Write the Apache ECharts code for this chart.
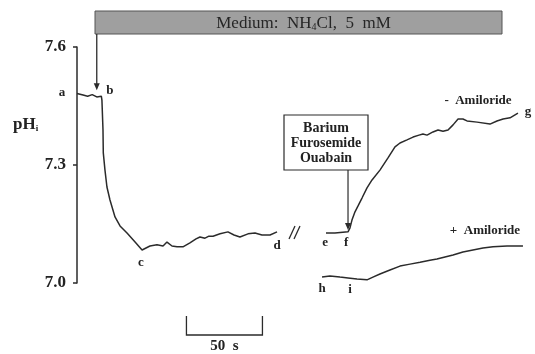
<!DOCTYPE html>
<html>
<head>
<meta charset="utf-8">
<script src="https://cdn.jsdelivr.net/npm/echarts@6/dist/echarts.min.js"></script>
<style>
html,body{margin:0;padding:0;background:#fff;}
#chart{width:535px;height:354px;}
</style>
</head>
<body>
<div id="chart"></div>
<script>
// Intracellular pH traces; time in seconds, pH units
const yTicks = [7.0, 7.3, 7.6];

// a-b-c-d : NH4Cl prepulse, acidification and plateau
const traceABCD = [
  [0, 7.482], [4, 7.478], [7, 7.475], [10, 7.479], [13, 7.473], [16, 7.475],
  [16.4, 7.465], [17.1, 7.389], [17.3, 7.331], [18.4, 7.287], [19.7, 7.244],
  [21.7, 7.211], [25, 7.168], [28.3, 7.145], [32.9, 7.127], [38.2, 7.104],
  [42.8, 7.084], [48, 7.094], [52.6, 7.097], [56.6, 7.094], [59.2, 7.104],
  [62.5, 7.094], [65.8, 7.092], [69.7, 7.092], [74.3, 7.102], [78.3, 7.112],
  [80.9, 7.117], [84.2, 7.114], [86.8, 7.119], [89.5, 7.119], [94.1, 7.125],
  [99.3, 7.130], [103.3, 7.122], [107.2, 7.117], [112.5, 7.125], [117.1, 7.127],
  [121.7, 7.122], [127, 7.122], [131.6, 7.130]
];

// e-f-g : recovery without amiloride
const traceEFG = [
  [163.8, 7.127], [169.7, 7.127], [178.3, 7.130], [179.6, 7.140], [180.9, 7.160],
  [182.9, 7.181], [184.9, 7.196], [187.5, 7.216], [190.8, 7.242], [194.1, 7.262],
  [199.3, 7.287], [204.6, 7.318], [209.2, 7.346], [212.5, 7.356], [217.1, 7.364],
  [221.1, 7.371], [225, 7.376], [227.6, 7.379], [230.3, 7.376], [234.2, 7.384],
  [237.5, 7.389], [240.8, 7.386], [244.1, 7.389], [247.4, 7.402], [250.7, 7.417],
  [253.9, 7.417], [256.6, 7.412], [263.2, 7.409], [271.7, 7.404], [276.3, 7.412],
  [280.3, 7.417], [284.9, 7.420], [290.1, 7.432]
];

// h-i : recovery with amiloride
const traceHI = [
  [161.2, 7.015], [166.4, 7.018], [173, 7.015], [178.3, 7.013], [184.2, 7.010],
  [190.8, 7.008], [194.7, 7.015], [199.3, 7.023], [205.9, 7.033], [212.5, 7.043],
  [219.1, 7.048], [225.7, 7.053], [232.2, 7.058], [236.8, 7.061], [242.1, 7.066],
  [247.4, 7.071], [253.9, 7.079], [260.5, 7.084], [267.1, 7.089], [273.7, 7.092],
  [282.9, 7.094], [293.4, 7.094]
];

// point letters [t, pH, text]
const pointLetters = [
  [-9.9, 7.483, 'a'], [21.7, 7.488, 'b'], [42.1, 7.053, 'c'], [131.6, 7.094, 'd'],
  [163.2, 7.102, 'e'], [177, 7.102, 'f'], [296.7, 7.435, 'g'],
  [161.2, 6.985, 'h'], [179.6, 6.982, 'i']
];

// condition captions [t, pH, text]
const captions = [
  [263.8, 7.463, '-  Amiloride'],
  [268.4, 7.132, '+  Amiloride']
];

const inhibitorLines = ['Barium', 'Furosemide', 'Ouabain'];
const scaleBarSeconds = [72, 122];
const scaleBarLabel = '50  s';

const SERIF = '"Liberation Serif", "DejaVu Serif", serif';
const INK = '#2b2b2b';

const chart = echarts.init(document.getElementById('chart'), null, {renderer: 'canvas'});

function lineSeries(data) {
  return {
    type: 'line', data: data, showSymbol: false, symbol: 'none',
    lineStyle: {color: INK, width: 1.5}, animation: false
  };
}

chart.setOption({
  animation: false,
  grid: {left: 77, right: 2, top: 47, bottom: 71},
  xAxis: {type: 'value', min: 0, max: 300, show: false},
  yAxis: {
    type: 'value', min: yTicks[0], max: yTicks[yTicks.length - 1], interval: 0.3,
    axisLine: {show: true, lineStyle: {color: INK, width: 1.5}},
    axisTick: {show: true, length: 4, lineStyle: {color: INK, width: 1.5}},
    splitLine: {show: false},
    axisLabel: {
      margin: 11, color: '#222', fontFamily: SERIF, fontWeight: 'bold', fontSize: 17,
      formatter: v => v.toFixed(1)
    }
  },
  series: [lineSeries(traceABCD), lineSeries(traceEFG), lineSeries(traceHI)]
});

function px(t, ph) { return chart.convertToPixel({gridIndex: 0}, [t, ph]); }

function buildGraphics() {
  const g = [];
  const txt = (x, y, text, size, extra) => g.push(Object.assign({
    type: 'text', x: x, y: y,
    style: Object.assign({text: text, fill: '#222', font: 'bold ' + size + 'px ' + SERIF,
      textAlign: 'center', textVerticalAlign: 'middle'}, extra || {})
  }));

  pointLetters.forEach(p => { const q = px(p[0], p[1]); txt(q[0], q[1], p[2], 13); });
  captions.forEach(p => { const q = px(p[0], p[1]); txt(q[0], q[1], p[2], 13); });

  // y-axis title pH_i
  g.push({
    type: 'text', x: 13, y: 125,
    style: {
      text: '{m|pH}{s|i}', textVerticalAlign: 'middle',
      rich: {
        m: {font: 'bold 17px ' + SERIF, fill: '#222'},
        s: {font: 'bold 9px ' + SERIF, fill: '#222', padding: [8, 0, 0, 0]}
      }
    }
  });

  // medium banner
  const bx0 = 95, bx1 = 502, by0 = 11, by1 = 34;
  g.push({type: 'rect', shape: {x: bx0, y: by0, width: bx1 - bx0, height: by1 - by0},
    style: {fill: '#9f9f9f', stroke: '#555', lineWidth: 1}});
  g.push({
    type: 'text', x: (bx0 + bx1) / 2 + 5, y: (by0 + by1) / 2 + 1,
    style: {
      text: '{t|Medium:  NH}{s|4}{t|Cl,  5  mM}', textAlign: 'center', textVerticalAlign: 'middle',
      rich: {
        t: {font: '17px ' + SERIF, fill: '#262626'},
        s: {font: '10px ' + SERIF, fill: '#262626', padding: [7, 0, 0, 0]}
      }
    }
  });
  // arrow from banner to point b
  const bTip = px(13, 7.49);
  g.push({type: 'line', shape: {x1: bTip[0], y1: by1, x2: bTip[0], y2: bTip[1] - 4},
    style: {stroke: INK, lineWidth: 1.3}});
  g.push({type: 'polygon', shape: {points: [[bTip[0] - 3, bTip[1] - 7], [bTip[0] + 3, bTip[1] - 7], [bTip[0], bTip[1]]]},
    style: {fill: INK}});

  // inhibitor box and arrow to point f
  const fTip = px(178.3, 7.132);
  const boxX0 = 284, boxX1 = 368, boxY0 = 115, boxY1 = 170;
  g.push({type: 'rect', shape: {x: boxX0, y: boxY0, width: boxX1 - boxX0, height: boxY1 - boxY0},
    style: {fill: '#fff', stroke: INK, lineWidth: 1.2}});
  inhibitorLines.forEach((s, i) => txt((boxX0 + boxX1) / 2, 128 + i * 15, s, 14));
  g.push({type: 'line', shape: {x1: fTip[0], y1: boxY1, x2: fTip[0], y2: fTip[1] - 4},
    style: {stroke: INK, lineWidth: 1.2}});
  g.push({type: 'polygon', shape: {points: [[fTip[0] - 3, fTip[1] - 8], [fTip[0] + 3, fTip[1] - 8], [fTip[0], fTip[1] - 1]]},
    style: {fill: INK}});

  // axis break mark
  g.push({type: 'line', shape: {x1: 289, y1: 239, x2: 295, y2: 226}, style: {stroke: INK, lineWidth: 1.3}});
  g.push({type: 'line', shape: {x1: 294, y1: 239, x2: 300, y2: 226}, style: {stroke: INK, lineWidth: 1.3}});

  // time scale bar
  const s0 = px(scaleBarSeconds[0], 7)[0], s1 = px(scaleBarSeconds[1], 7)[0];
  g.push({type: 'polyline', shape: {points: [[s0, 316], [s0, 335], [s1, 335], [s1, 316]]},
    style: {stroke: INK, lineWidth: 1.3, fill: null}});
  txt((s0 + s1) / 2, 346, scaleBarLabel, 15);

  return g;
}

chart.setOption({graphic: buildGraphics()});
</script>
</body>
</html>
